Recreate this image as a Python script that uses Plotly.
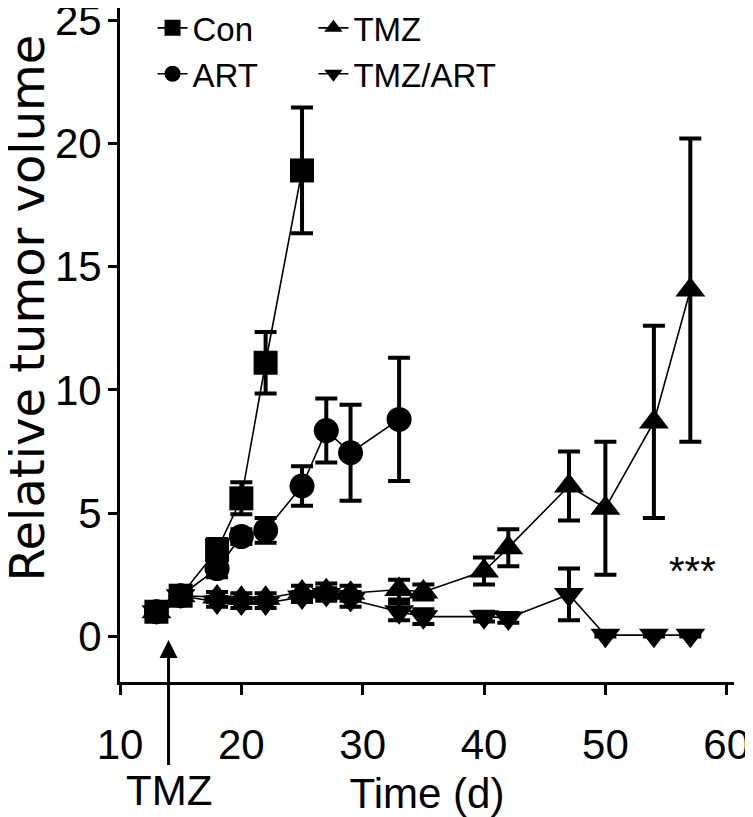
import plotly.graph_objects as go

# ---- data ----
days_con = [13, 15, 18, 20, 22, 25]
con = [1.0, 1.65, 3.5, 5.6, 11.1, 18.9]
con_err = [0.1, 0.2, 0.45, 0.65, 1.25, 2.55]

days_art = [13, 15, 18, 20, 22, 25, 27, 29, 33]
art = [1.0, 1.65, 2.75, 4.05, 4.3, 6.1, 8.35, 7.45, 8.8]
art_err = [0.1, 0.2, 0.35, 0.3, 0.5, 0.8, 1.3, 1.95, 2.5]

days_tmz = [13, 15, 18, 20, 22, 25, 27, 29, 33, 35, 40, 42, 47, 50, 54, 57]
tmz = [1.0, 1.65, 1.6, 1.55, 1.55, 1.8, 1.85, 1.75, 1.9, 1.8, 2.65, 3.6, 6.1, 5.2, 8.7, 14.05]
tmz_err = [0.1, 0.15, 0.2, 0.2, 0.2, 0.25, 0.3, 0.3, 0.4, 0.3, 0.55, 0.75, 1.4, 2.7, 3.9, 6.15]

days_ta = [13, 15, 18, 20, 22, 25, 27, 29, 33, 35, 40, 42, 47, 50, 54, 57]
tmz_art = [1.0, 1.65, 1.4, 1.35, 1.35, 1.6, 1.7, 1.5, 1.0, 0.8, 0.8, 0.75, 1.7, 0.05, 0.05, 0.05]
tmz_art_err = [0.1, 0.15, 0.2, 0.2, 0.2, 0.2, 0.25, 0.3, 0.35, 0.3, 0.2, 0.2, 1.05, 0.05, 0.05, 0.05]

x_ticks = [10, 20, 30, 40, 50, 60]
y_ticks = [0, 5, 10, 15, 20, 25]

FONT = "Arial, Liberation Sans, sans-serif"
TITLE_FONT = "DejaVu Sans, Arial, sans-serif"


def series(name, xs, ys, err, symbol, size, legend, rank):
    return go.Scatter(
        x=xs, y=ys, name=name, mode="lines+markers",
        line=dict(color="black", width=1.6),
        marker=dict(symbol=symbol, size=size, color="black"),
        error_y=dict(type="data", array=err, visible=True,
                     color="black", thickness=4, width=11),
        legend=legend, legendrank=rank,
    )


fig = go.Figure()
fig.add_trace(series("TMZ/ART", days_ta, tmz_art, tmz_art_err, "triangle-down", 26, "legend2", 2))
fig.add_trace(series("TMZ", days_tmz, tmz, tmz_err, "triangle-up", 26, "legend2", 1))
fig.add_trace(series("ART", days_art, art, art_err, "circle", 25, "legend", 2))
fig.add_trace(series("Con", days_con, con, con_err, "square", 24, "legend", 1))

axis_common = dict(
    showline=True, linecolor="black", linewidth=3,
    ticks="outside", tickwidth=3, tickcolor="black",
    showgrid=False, zeroline=False, automargin=False,
    ticklabeloverflow="allow",
    tickfont=dict(family=FONT, size=42, color="black"),
)

# the page body adds an 8 px offset, so the figure is 8 px smaller
fig.update_layout(
    template="none",
    width=745, height=809,
    margin=dict(l=112, r=19, t=0, b=135, autoexpand=False),
    plot_bgcolor="white", paper_bgcolor="white",
    font=dict(family=FONT, color="black"),
    xaxis=dict(range=[10, 60.6], tickvals=x_ticks, ticklen=10,
               ticklabelstandoff=14,
               title=dict(text="Time (d)", font=dict(family=FONT, size=42), standoff=14),
               **axis_common),
    yaxis=dict(range=[-1.85, 25.49], tickvals=y_ticks, ticklen=9,
               ticklabelstandoff=-2, **axis_common),
    legend=dict(x=0.053, y=1.012, xanchor="left", yanchor="top",
                bgcolor="rgba(0,0,0,0)", font=dict(family=FONT, size=33),
                tracegroupgap=0, itemsizing="trace", borderwidth=0),
    legend2=dict(x=0.315, y=1.012, xanchor="left", yanchor="top",
                 bgcolor="rgba(0,0,0,0)", font=dict(family=FONT, size=33),
                 tracegroupgap=0, itemsizing="trace", borderwidth=0),
    showlegend=True,
)

# y-axis title
fig.add_annotation(text="Relative tumor volume", xref="paper", yref="paper",
                   x=-0.152, y=0.555, xanchor="center", yanchor="middle",
                   showarrow=False, textangle=-90,
                   font=dict(family=TITLE_FONT, size=48, color="black"))

# treatment arrow
fig.add_annotation(text="TMZ", x=14, y=-0.15, xref="x", yref="y",
                   showarrow=True, ax=0, ay=150, arrowhead=2, arrowsize=1.2,
                   arrowwidth=3, arrowcolor="black",
                   font=dict(family=FONT, size=42, color="black"))

# significance
fig.add_annotation(text="***", x=57.2, y=2.65, xref="x", yref="y",
                   showarrow=False, font=dict(family=FONT, size=40, color="black"))

fig.write_html("out.html")
